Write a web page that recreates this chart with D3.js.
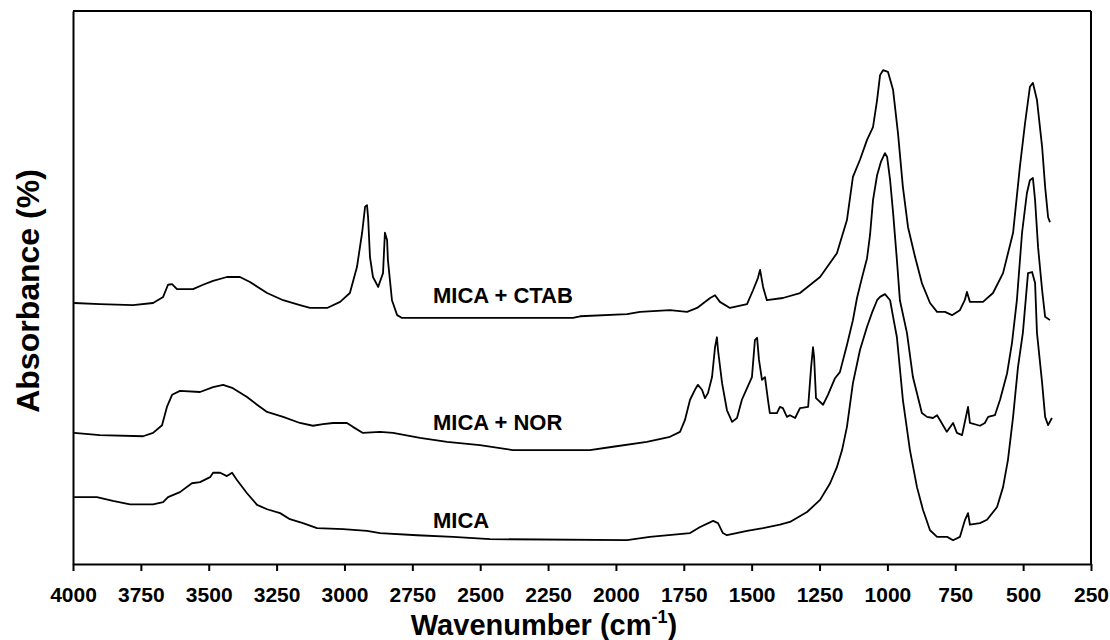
<!DOCTYPE html>
<html>
<head>
<meta charset="utf-8">
<script src="https://cdn.jsdelivr.net/npm/d3@7"></script>
<style>
html,body{margin:0;padding:0;background:#fff;}
svg{display:block;}
text{font-family:"Liberation Sans",Arial,sans-serif;font-weight:bold;fill:#000;}
</style>
</head>
<body>
<svg id="chart" width="1110" height="640"></svg>
<script>
// ---------- data ----------
const xTicks = [4000,3750,3500,3250,3000,2750,2500,2250,2000,1750,1500,1250,1000,750,500,250];

const ctabWn = [3996,3901,3779,3705,3668,3650,3635,3617,3558,3521,
  3484,3433,3385,3348,3285,3226,3164,3127,3064,3016,
  2980,2954,2935,2924,2917,2913,2906,2895,2876,2858,
  2851,2843,2840,2825,2806,2788,2158,2132,1959,1911,
  1801,1738,1701,1653,1635,1617,1580,1517,1495,1477,
  1469,1458,1444,1385,1322,1248,1186,1149,1127,1101,
  1075,1053,1038,1027,1016,998,979,961,943,924,
  898,873,843,817,788,762,733,715,707,696,
  648,611,574,537,512,493,475,464,449,430,
  419,408,401];
const ctabAbs = [47.2,47.0,46.8,47.2,48.3,50.5,50.6,49.7,49.7,50.5,
  51.2,51.9,51.9,51.0,49.0,47.7,46.8,46.3,46.3,47.4,
  49.0,53.7,59.9,64.6,64.9,62.7,55.5,51.9,50.1,52.6,
  59.9,58.6,55.0,47.7,45.0,44.5,44.5,44.8,45.2,45.6,
  45.9,45.6,46.3,48.1,48.6,47.4,46.3,47.0,49.5,51.7,
  53.2,50.1,47.7,48.1,49.0,51.9,56.2,62.2,70.0,73.1,
  76.7,79.0,83.9,88.4,89.3,89.0,85.7,77.9,68.2,60.9,
  55.5,50.8,47.2,45.6,45.6,45.0,45.9,47.7,49.2,47.4,
  47.4,49.0,52.6,59.9,71.8,79.7,86.3,87.0,83.9,75.4,
  68.2,62.7,61.8];

const norWn = [3996,3901,3742,3705,3672,3654,3635,3606,3532,3484,
  3447,3411,3359,3322,3285,3226,3164,3116,3079,3042,
  2991,2969,2932,2869,2821,2722,2622,2501,2379,2096,
  2011,1886,1801,1764,1746,1727,1709,1698,1683,1672,
  1661,1646,1635,1628,1624,1609,1591,1572,1554,1536,
  1517,1499,1488,1480,1473,1462,1451,1440,1433,1407,
  1396,1385,1370,1359,1340,1322,1292,1281,1274,1270,
  1263,1237,1219,1193,1175,1149,1127,1112,1094,1075,
  1064,1053,1038,1024,1009,1001,990,979,965,954,
  928,906,873,854,832,817,806,781,758,744,
  725,703,696,659,641,629,604,585,559,541,
  523,504,486,475,464,456,445,430,419,401];
const norAbs = [23.7,23.3,23.1,23.7,25.1,28.4,30.6,31.3,31.1,32.0,
  32.4,31.8,30.2,28.8,27.5,26.6,25.5,25.0,25.3,25.5,
  25.5,24.8,23.7,23.9,23.7,22.8,22.1,21.5,20.6,20.6,
  21.2,22.1,23.0,23.9,26.0,29.7,31.5,32.4,31.5,30.0,
  30.9,33.8,39.2,41.0,38.7,32.7,27.8,25.7,26.4,29.7,
  31.8,33.8,40.5,40.9,36.9,33.3,33.8,29.7,27.3,27.3,
  28.4,28.2,26.6,26.9,26.4,28.2,28.4,35.6,39.2,37.4,
  30.0,28.8,30.6,33.6,34.7,39.6,44.1,48.1,51.7,55.3,
  59.5,65.8,70.3,72.7,74.3,73.6,69.4,63.5,55.0,47.7,
  41.8,33.8,27.3,26.6,26.4,26.9,26.0,23.9,25.5,23.7,
  23.3,28.4,25.5,25.0,25.5,26.6,26.9,29.7,34.5,40.0,
  47.7,59.9,67.1,69.4,69.8,65.8,57.3,49.5,44.7,44.1];

const micaWn = [3996,3912,3853,3790,3705,3668,3650,3606,3562,3532,
  3495,3484,3458,3433,3414,3396,3359,3322,3285,3237,
  3201,3153,3101,3005,2917,2869,2733,2600,2464,1959,
  1875,1727,1690,1642,1624,1606,1591,1517,1458,1396,
  1359,1296,1248,1211,1186,1167,1149,1127,1101,1075,
  1057,1038,1027,1009,990,979,965,943,917,891,
  869,843,817,780,758,733,714,703,696,659,
  633,596,574,556,537,519,501,482,467,456,
  449,430,419,408,394];
const micaAbs = [12.1,12.1,11.4,10.8,10.8,11.2,12.1,13.0,14.6,14.8,
  15.7,16.5,16.5,15.9,16.5,15.2,12.8,10.7,9.9,9.2,
  8.1,7.4,6.5,6.3,6.0,5.6,5.2,4.9,4.5,4.3,
  4.9,5.6,6.7,7.8,7.4,5.6,5.2,6.0,6.5,7.1,
  7.6,9.4,11.6,14.6,17.5,20.6,24.8,32.7,38.7,42.9,
  45.4,47.7,48.3,48.8,47.7,44.7,41.0,29.7,20.6,13.9,
  9.8,6.1,4.9,4.9,4.3,4.9,8.0,9.2,7.1,7.4,
  8.0,10.3,13.9,18.8,26.6,35.6,41.8,52.6,52.8,50.8,
  41.8,32.7,26.6,25.1,26.4];

const seriesNames = ["MICA + CTAB","MICA + NOR","MICA"];
const labelWn = [2674,2674,2674];
const labelAbs = [47.2,24.2,6.5];

// ---------- layout ----------
const svg = d3.select("#chart");
const L = 73, R = 1091, T = 11, B = 564;

const x = d3.scaleLinear().domain([4000,250]).range([L,R]);
const y = d3.scaleLinear().domain([0,100]).range([B,T]);

const series = [
  {wn: ctabWn, ab: ctabAbs},
  {wn: norWn, ab: norAbs},
  {wn: micaWn, ab: micaAbs}
];

const line = d3.line().x(d => x(d[0])).y(d => y(d[1]));

svg.append("g").selectAll("path")
  .data(series)
  .join("path")
  .attr("d", s => line(d3.zip(s.wn, s.ab)))
  .attr("fill","none")
  .attr("stroke","#000")
  .attr("stroke-width",1.8)
  .attr("stroke-linejoin","round");

// frame top & right
svg.append("line").attr("x1",L).attr("x2",R).attr("y1",T).attr("y2",T)
  .attr("stroke","#000").attr("stroke-width",2);
svg.append("line").attr("x1",R).attr("x2",R).attr("y1",T).attr("y2",B)
  .attr("stroke","#000").attr("stroke-width",2);

// left axis (no ticks)
const yAxis = svg.append("g").attr("transform",`translate(${L},0)`)
  .call(d3.axisLeft(y).tickValues([]).tickSizeOuter(0));
yAxis.select(".domain").attr("stroke-width",2);

// bottom axis
const xAxis = svg.append("g").attr("transform",`translate(0,${B})`)
  .call(d3.axisBottom(x).tickValues(xTicks).tickSize(7).tickSizeOuter(0)
    .tickPadding(16).tickFormat(d3.format("d")));
xAxis.select(".domain").attr("stroke-width",2);
xAxis.selectAll(".tick line").attr("stroke-width",2);
xAxis.selectAll(".tick text")
  .style("font-family",'"Liberation Sans",Arial,sans-serif')
  .style("font-weight","bold")
  .style("font-size","21px")
  .attr("fill","#000");

// series labels
svg.append("g").selectAll("text")
  .data(seriesNames)
  .join("text")
  .attr("x",(d,i) => x(labelWn[i]))
  .attr("y",(d,i) => y(labelAbs[i]))
  .style("font-size","22px")
  .text(d => d);

// axis titles
const xt = svg.append("text")
  .attr("x",544).attr("y",635)
  .attr("text-anchor","middle")
  .style("font-size","29px");
xt.append("tspan").text("Wavenumber (cm");
xt.append("tspan").attr("dy",-12).style("font-size","18px").text("-1");
xt.append("tspan").attr("dy",12).text(")");

svg.append("text")
  .attr("transform","translate(39,291) rotate(-90)")
  .attr("text-anchor","middle")
  .style("font-size","32px")
  .text("Absorbance (%)");
</script>
</body>
</html>
